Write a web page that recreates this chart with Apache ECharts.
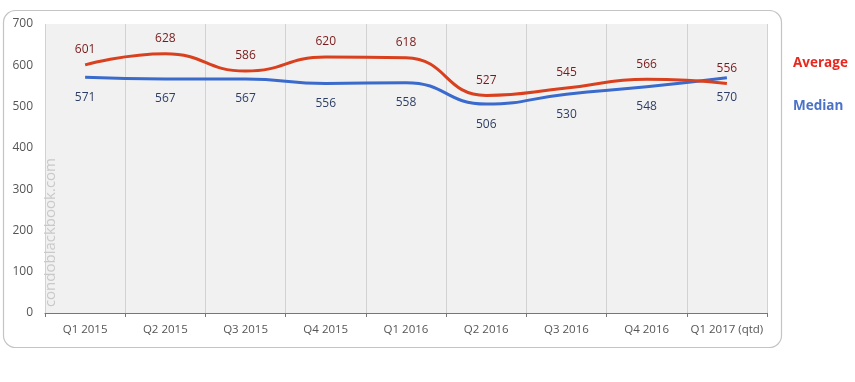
<!DOCTYPE html>
<html><head><meta charset="utf-8">
<script src="https://cdn.jsdelivr.net/npm/echarts@6/dist/echarts.min.js"></script>
<style>html,body{margin:0;padding:0;background:#fff}#c{width:855px;height:382px}</style>
</head><body><div id="c"></div>
<script>
const categories = ['Q1 2015','Q2 2015','Q3 2015','Q4 2015','Q1 2016','Q2 2016','Q3 2016','Q4 2016','Q1 2017 (qtd)'];
const averageValues = [601, 628, 586, 620, 618, 527, 545, 566, 556];
const medianValues = [571, 567, 567, 556, 558, 506, 530, 548, 570];
const yTicks = [0, 100, 200, 300, 400, 500, 600, 700];

const chart = echarts.init(document.getElementById('c'), null, {renderer: 'canvas'});
chart.setOption({
  animation: false,
  backgroundColor: '#fff',
  grid: {left: 45, right: 88, top: 24, bottom: 69, show: true, backgroundColor: '#f1f1f1', borderWidth: 0},
  graphic: [
    {type: 'rect', shape: {x: 3.5, y: 10.5, width: 778, height: 337, r: 12}, style: {fill: 'none', stroke: '#c4c4c4', lineWidth: 1.2}, z: -1},
    {type: 'text', left: 43, top: 158, rotation: Math.PI / 2, style: {text: 'condoblackbook.com', font: '15px "Open Sans", sans-serif', fill: '#c9c9c9'}, z: 5}
  ],
  legend: {
    orient: 'vertical', left: 783, top: 51, itemGap: 29, icon: 'none', itemWidth: 0, itemHeight: 0,
    selectedMode: false,
    data: [
      {name: 'Average', textStyle: {color: '#e8281e'}},
      {name: 'Median', textStyle: {color: '#4a72c8'}}
    ],
    textStyle: {fontWeight: 'bold', fontSize: 13.5, fontFamily: '"Open Sans", sans-serif'}
  },
  xAxis: {
    type: 'category', data: categories, boundaryGap: true,
    axisLine: {lineStyle: {color: '#777', width: 1.2}},
    axisTick: {show: true, length: 4, lineStyle: {color: '#777'}},
    axisLabel: {interval: 0, color: '#555', fontSize: 11.5, fontFamily: '"Open Sans", sans-serif', margin: 11},
    splitLine: {show: true, interval: 0, lineStyle: {color: '#d2d2d2', width: 1}}
  },
  yAxis: {
    type: 'value', min: yTicks[0], max: yTicks[yTicks.length - 1], interval: 100,
    axisLine: {show: false}, axisTick: {show: false},
    axisLabel: {color: '#555', fontSize: 12, fontFamily: '"Open Sans", sans-serif', margin: 12},
    splitLine: {show: false}
  },
  series: [
    {name: 'Average', type: 'line', data: averageValues, smooth: 0.5, symbol: 'circle', symbolSize: 2, showSymbol: true, z: 3,
     lineStyle: {color: '#d9401e', width: 3}, itemStyle: {color: 'rgba(0,0,0,0)', borderWidth: 0},
     label: {show: true, position: 'top', distance: 8, color: '#7a1a1a', fontSize: 12, fontFamily: '"Open Sans", sans-serif'},
     labelLayout: {hideOverlap: false}},
    {name: 'Median', type: 'line', data: medianValues, smooth: 0.5, symbol: 'circle', symbolSize: 2, showSymbol: true, z: 2,
     lineStyle: {color: '#3a6acc', width: 3}, itemStyle: {color: 'rgba(0,0,0,0)', borderWidth: 0},
     label: {show: true, position: 'bottom', distance: 13, color: '#2d3e66', fontSize: 12, fontFamily: '"Open Sans", sans-serif'},
     labelLayout: {hideOverlap: false}}
  ]
});
</script></body></html>
